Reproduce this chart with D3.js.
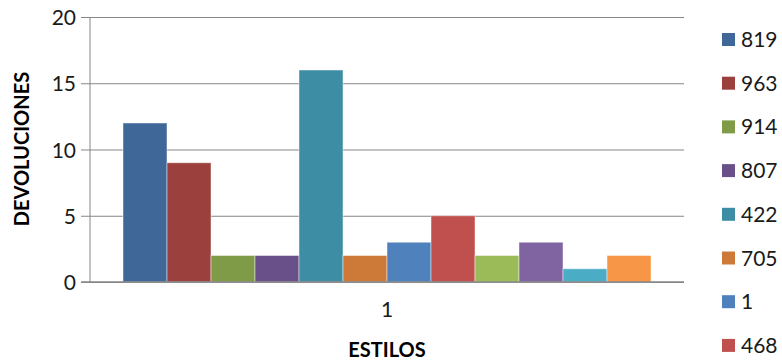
<!DOCTYPE html>
<html><head><meta charset="utf-8">
<script src="https://cdn.jsdelivr.net/npm/d3@7"></script>
<style>body{margin:0;background:#fff}svg{display:block}</style>
</head><body>
<svg id="c" width="782" height="360"></svg>
<script>
const categories = ["1"];
const seriesNames = ["819","963","914","807","422","705","1","468","","","",""];
const seriesValues = [12, 9, 2, 2, 16, 2, 3, 5, 2, 3, 1, 2];
const seriesColors = ["#3F6899","#9C403D","#7F9B48","#6A5088","#3D8EA5","#CD7A38",
                      "#4F81BD","#C0504D","#9BBB59","#8064A2","#4BACC6","#F79646"];
const yTicks = [0, 5, 10, 15, 20];
const yTitle = "DEVOLUCIONES";
const xTitle = "ESTILOS";

const svg = d3.select("#c");
const L = 90, R = 684, T = 17, B = 282;
const font = "Lato, 'Open Sans', sans-serif";

const y = d3.scaleLinear().domain([0, 20]).range([B, T]);
const x0 = d3.scaleBand().domain(categories).range([L, R]).paddingInner(0).paddingOuter(0);
const n = seriesValues.length;
const bw = x0.bandwidth();
const barW = bw / (n + 1.5);
const x1 = d3.scaleBand().domain(d3.range(n)).range([barW*0.75, bw - barW*0.75]).padding(0);

const yAxis = d3.axisLeft(y).tickValues(yTicks).tickSize(-(R - L)).tickPadding(14);
const gy = svg.append("g").attr("transform", `translate(${L},0)`).call(yAxis);
gy.select(".domain").remove();
gy.selectAll(".tick line").attr("stroke", "#868686").attr("stroke-width", 1).attr("x1", -9);
gy.selectAll(".tick text").attr("font-family", font).attr("font-size", 21).attr("fill", "#1a1a1a")
  .attr("dy", "0.36em");

svg.append("line").attr("x1", L).attr("x2", L).attr("y1", T).attr("y2", B)
  .attr("stroke", "#868686").attr("stroke-width", 1);

const g = svg.append("g").attr("transform", `translate(${x0(categories[0])},0)`);
g.selectAll("rect").data(seriesValues).join("rect")
  .attr("x", (d, i) => x1(i))
  .attr("width", x1.bandwidth())
  .attr("y", d => y(d))
  .attr("height", d => y(0) - y(d))
  .attr("fill", (d, i) => seriesColors[i])
  .attr("stroke", "rgba(255,255,255,0.45)")
  .attr("stroke-width", 1);

svg.append("line").attr("x1", L - 9).attr("x2", R).attr("y1", B).attr("y2", B)
  .attr("stroke", "#868686").attr("stroke-width", 1.5);

const xAxis = d3.axisBottom(x0).tickSize(0).tickPadding(20);
const gx = svg.append("g").attr("transform", `translate(0,${B})`).call(xAxis);
gx.select(".domain").remove();
gx.selectAll(".tick text").attr("font-family", font).attr("font-size", 21).attr("fill", "#1a1a1a");

svg.append("text").attr("x", 387).attr("y", 357).attr("text-anchor", "middle")
  .attr("font-family", font).attr("font-weight", "bold").attr("font-size", 20).attr("fill", "#000")
  .text(xTitle);
svg.append("text").attr("transform", `translate(29,${149}) rotate(-90)`).attr("text-anchor", "middle")
  .attr("font-family", font).attr("font-weight", "bold").attr("font-size", 20).attr("fill", "#000")
  .text(yTitle);

const lg = svg.append("g");
const items = lg.selectAll("g").data(seriesNames).join("g")
  .attr("transform", (d, i) => `translate(722,${33 + i * 43.7})`);
items.append("rect").attr("width", 13).attr("height", 13).attr("fill", (d, i) => seriesColors[i]);
items.append("text").attr("x", 19).attr("y", 6.5).attr("dy", "0.36em")
  .attr("font-family", font).attr("font-size", 21).attr("fill", "#1a1a1a").text(d => d);
</script>
</body></html>
